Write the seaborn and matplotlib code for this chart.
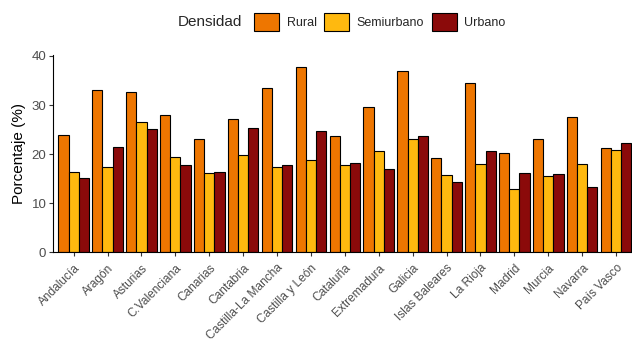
import matplotlib
matplotlib.use("Agg")
import matplotlib.pyplot as plt
import seaborn as sns
import pandas as pd
from matplotlib.patches import Patch

regiones = ["Andalucía", "Aragón", "Asturias", "C.Valenciana", "Canarias", "Cantabria",
            "Castilla-La Mancha", "Castilla y León", "Cataluña", "Extremadura", "Galicia",
            "Islas Baleares", "La Rioja", "Madrid", "Murcia", "Navarra", "País Vasco"]
rural = [24.0, 33.0, 32.6, 28.0, 23.0, 27.1, 33.4, 37.8, 23.6, 29.7, 36.9,
         19.3, 34.4, 20.2, 23.0, 27.6, 21.3]
semiurbano = [16.4, 17.3, 26.5, 19.5, 16.2, 19.9, 17.3, 18.8, 17.7, 20.6, 23.0,
              15.8, 17.9, 13.0, 15.6, 17.9, 20.8]
urbano = [15.1, 21.5, 25.2, 17.8, 16.4, 25.3, 17.8, 24.7, 18.2, 16.9, 23.8,
          14.3, 20.6, 16.2, 16.0, 13.4, 22.3]
densidades = ["Rural", "Semiurbano", "Urbano"]
colores = ["#EE7600", "#FFB90F", "#8B0A0A"]

df = pd.DataFrame({
    "Region": regiones * 3,
    "Densidad": ["Rural"] * 17 + ["Semiurbano"] * 17 + ["Urbano"] * 17,
    "Porcentaje": rural + semiurbano + urbano,
})

sns.set_style("white")
plt.rcParams["font.family"] = ["Liberation Sans", "DejaVu Sans"]

fig = plt.figure(figsize=(6.32, 3.45), dpi=100)
ax = fig.add_axes([53.3 / 632, 92.7 / 345, (632 - 53.3) / 632, (252.3 - 56) / 345 * 40.2 / 40])

sns.barplot(data=df, x="Region", y="Porcentaje", hue="Densidad", order=regiones,
            hue_order=densidades, palette=colores, saturation=1, width=0.9, gap=0,
            edgecolor="black", linewidth=0.8, errorbar=None, ax=ax, legend=False)

ax.set_xlim(-0.6, 16.47)
ax.set_ylim(0, 40.2)
ax.set_yticks([0, 10, 20, 30, 40])
ax.set_xlabel("")
ax.set_ylabel("Porcentaje (%)", fontsize=11, color="black")
for s in ["top", "right"]:
    ax.spines[s].set_visible(False)
for s in ["left", "bottom"]:
    ax.spines[s].set_color("black")
    ax.spines[s].set_linewidth(0.8)
ax.tick_params(axis="both", direction="out", length=3, width=0.8, color="#333333",
               labelcolor="#4D4D4D", bottom=True, left=True, pad=2)
ax.tick_params(axis="y", labelsize=9.5)
ax.tick_params(axis="x", labelsize=8.6, pad=4)
plt.setp(ax.get_xticklabels(), rotation=45, ha="right", rotation_mode="anchor")

fig.text(178 / 632, 1 - 22 / 345, "Densidad", fontsize=11, va="center", ha="left")
handles = [Patch(facecolor=c, edgecolor="black", linewidth=0.8) for c in colores]
fig.legend(handles, densidades, ncol=3, loc="center left",
           bbox_to_anchor=(243 / 632, 1 - 22 / 345), frameon=False, fontsize=9,
           handlelength=2.0, handleheight=1.85, handletextpad=0.6, columnspacing=0.6)

fig.savefig("out.png", dpi=100)
